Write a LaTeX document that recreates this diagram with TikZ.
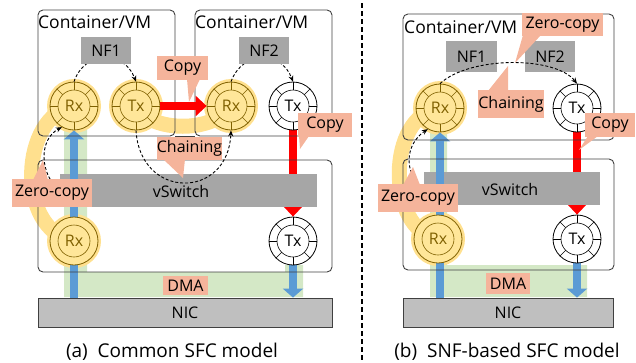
\documentclass[tikz,border=0pt]{standalone}
\usepackage{fontspec}
\setmainfont{Open Sans}
\usetikzlibrary{arrows.meta}

\definecolor{ringline}{HTML}{7F6000}
\definecolor{ringfill}{HTML}{FFE699}
\definecolor{bandcol}{HTML}{FFE08E}
\definecolor{calloutpink}{RGB}{245,180,155}
\definecolor{nfgray}{HTML}{A6A6A6}
\definecolor{nicgray}{HTML}{BFBFBF}
\definecolor{dmagreen}{RGB}{169,209,142}
\definecolor{pktblue}{HTML}{5B9BD5}
\definecolor{boxline}{HTML}{404040}

\pgfdeclarelayer{back}
\pgfdeclarelayer{lower}
\pgfsetlayers{back,lower,main}

\newcommand{\txtsize}{\fontsize{16}{18}\selectfont}
\newcommand{\bigsize}{\fontsize{17.5}{20}\selectfont}
\newcommand{\capsize}{\fontsize{19}{22}\selectfont}

\tikzset{
  ringbase/.style={circle, minimum size=48pt, inner sep=0pt, line width=0.8pt, font=\txtsize},
  yring/.style={ringbase, draw=ringline, fill=ringfill, text=ringline},
  wring/.style={ringbase, draw=black, fill=white, text=black},
  frame/.style={draw=boxline, line width=0.9pt, rounded corners=5pt, inner sep=0pt},
  graybox/.style={fill=nfgray, inner sep=0pt, font=\txtsize},
  nicbox/.style={fill=nicgray, draw=boxline, line width=0.8pt, inner sep=0pt, font=\txtsize},
  cbox/.style={fill=calloutpink, inner sep=0pt, font=\txtsize},
  ctail/.style={fill=calloutpink},
  lbl/.style={inner sep=0pt, font=\txtsize},
  bandline/.style={draw=bandcol, line width=15pt},
  redarrow/.style={draw=red, line width=8.5pt, -{Triangle[length=11pt,width=20pt]}},
  bluearrow/.style={draw=pktblue, line width=8pt, -{Triangle[length=9pt,width=20pt]}},
  chainline/.style={draw=black, line width=0.9pt, dash pattern=on 3pt off 2pt,
      -{Stealth[length=6pt,width=5pt]}},
  ringmark/.style={line width=0.6pt},
}

\begin{document}
\begin{tikzpicture}[x=1pt, y=-1pt]
\useasboundingbox (0,0) rectangle (636,362);

% ---------- frames ----------
\node[frame, minimum width=137pt, minimum height=126pt] (cA) at (106.5,73) {};
\node[frame, minimum width=137pt, minimum height=126pt] (cB) at (263.5,73) {};
\node[frame, minimum width=294pt, minimum height=112pt] (hA) at (185,216) {};
\node[frame, minimum width=211pt, minimum height=126pt] (cC) at (508.5,77) {};
\node[frame, minimum width=211pt, minimum height=111pt] (hB) at (508.5,214.5) {};
\draw[boxline, line width=0.9pt] (cA.south east) -- (cB.south west);

\node[lbl, font=\bigsize, anchor=base west] (tA) at (38,28) {Container/VM};
\node[lbl, font=\bigsize, anchor=base west] (tB) at (195,28) {Container/VM};
\node[lbl, font=\bigsize, anchor=base west] (tC) at (404,33) {Container/VM};

\node[nicbox, minimum width=294pt, minimum height=29pt] (nicA) at (185,312.5) {NIC};
\node[nicbox, minimum width=210pt, minimum height=29pt] (nicB) at (508,312.5) {NIC};

% ---------- rings ----------
\node[yring] (rxA) at (74,106) {Rx};
\node[yring] (txA) at (136,106) {Tx};
\node[yring] (rxB) at (231,106) {Rx};
\node[wring] (txB) at (293,106) {Tx};
\node[yring] (rxC) at (74,241) {Rx};
\node[wring] (txC) at (293,241) {Tx};

\node[yring] (rxD) at (440,108) {Rx};
\node[wring] (txD) at (577,108) {Tx};
\node[yring] (rxE) at (438,239) {Rx};
\node[wring] (txE) at (577,239) {Tx};

% inner rings and slot ticks
\foreach \n/\c in {rxA/ringline, txA/ringline, rxB/ringline, txB/black,
                   txC/black, rxD/ringline, txD/black, txE/black} {
  \draw[ringmark, \c] (\n.center) circle[radius=16pt];
  \foreach \a in {0,45,...,315}
    \draw[ringmark, \c] (\n.center) ++(\a:16pt) -- (\n.\a);
}
\foreach \n in {rxC, rxE}
  \draw[ringmark, ringline] (\n.center) circle[radius=16pt];

% ---------- DMA region and zero-copy bands ----------
\begin{pgfonlayer}{back}
  \fill[dmagreen, opacity=0.5] (64,127) -- (87,127) -- (87,272) -- (285,272) -- (285,265)
        -- (303,265) -- (303,297) -- (64,297) -- cycle;
  \fill[dmagreen, opacity=0.5] (430,130) -- (447,130) -- (447,265) -- (587,265)
        -- (587,297) -- (430,297) -- cycle;
  \draw[bandline] (rxA.center) .. controls (20,115) and (15,230) .. (rxC.center);
  \draw[bandline] (txA.center) .. controls (150,133) and (215,133) .. (rxB.center);
  \draw[bandline] (rxD.center) .. controls (386,115) and (386,230) .. (rxE.center);
  \foreach \n in {rxA,txA,rxB,rxC,rxD,rxE} {\fill[bandcol] (\n.center) circle[radius=27pt];}
\end{pgfonlayer}

% ---------- vSwitch with the copy and DMA paths ----------
\begin{pgfonlayer}{lower}
  \draw[redarrow] (txB.south) -- (txC.north);
  \draw[redarrow] (txD.south) -- (txE.north);
  \node[graybox, minimum width=257pt, minimum height=33pt] (vsA) at (188.5,190.5) {};
  \node[graybox, minimum width=176pt, minimum height=33pt] (vsB) at (512,188.5) {};
  \node[lbl] (vsAt) at (181,191) {vSwitch};
  \node[lbl] (vsBt) at (510,189) {vSwitch};
  \draw[bluearrow] (nicA.north -| rxA) -- (rxA.south);
  \draw[bluearrow] (txC.south) -- (txC.south |- nicA.north);
  \draw[bluearrow] (nicB.north -| rxD) -- (rxD.south);
  \draw[bluearrow] (txE.south) -- (txE.south |- nicB.north);
\end{pgfonlayer}

% ---------- chaining ----------
\draw[chainline] (rxA.north) .. controls (85,50) and (124,50) .. (txA.north);
\draw[chainline] (rxB.north) .. controls (243,50) and (281,50) .. (txB.north);
\draw[chainline] (txA.south) .. controls (140,200) and (228,200) .. (rxB.south);
\draw[chainline] (vsA.west) .. controls (40,175) and (38,140) .. (rxA.240);
\draw[chainline] (vsB.west) .. controls (404,175) and (404,145) .. (rxD.240);

\node[graybox, minimum width=50pt, minimum height=27pt] (nfA) at (106,50.5) {NF1};
\node[graybox, minimum width=50pt, minimum height=27pt] (nfB) at (264,50.5) {NF2};
\node[graybox, minimum width=51pt, minimum height=31pt] (nfC) at (471.5,56.5) {NF1};
\node[graybox, minimum width=50pt, minimum height=31pt] (nfD) at (550,56.5) {NF2};

\draw[chainline] (rxD.north) .. controls (470,56) and (555,56) .. (txD.north);
\draw[redarrow] (txA.east) -- (rxB.west);

% ---------- callouts ----------
\fill[ctail] (187,79) -- (189,102) -- (200,79) -- cycle;
\node[cbox, minimum width=51pt, minimum height=24pt] (copyA) at (182.5,68) {Copy};
\fill[ctail] (299,136) -- (300,149) -- (309,136) -- cycle;
\node[cbox, minimum width=54pt, minimum height=24pt] (copyB) at (325,125) {Copy};
\fill[ctail] (163,159) -- (183,178) -- (185,159) -- cycle;
\node[cbox, minimum width=65pt, minimum height=23pt] (chainA) at (189.5,148.5) {Chaining};
\fill[ctail] (33,180) -- (43,160) -- (48,180) -- cycle;
\node[cbox, minimum width=80pt, minimum height=28pt] (zeroA) at (52,193) {Zero-copy};
\node[cbox, minimum width=45pt, minimum height=19pt] (dmaA) at (185.5,285.5) {DMA};

\fill[ctail] (523,35) -- (515,63) -- (541,35) -- cycle;
\node[cbox, minimum width=81pt, minimum height=23pt] (zeroB) at (562.5,24.5) {Zero-copy};
\fill[ctail] (488,91) -- (508,66) -- (508,91) -- cycle;
\node[cbox, minimum width=64pt, minimum height=28pt] (chainB) at (511,104) {Chaining};
\fill[ctail] (588,136) -- (579,150) -- (598,136) -- cycle;
\node[cbox, minimum width=50pt, minimum height=24pt] (copyC) at (610,125) {Copy};
\fill[ctail] (403,185) -- (413,167) -- (420,185) -- cycle;
\node[cbox, minimum width=80pt, minimum height=28pt] (zeroC) at (418,198) {Zero-copy};
\node[cbox, minimum width=44pt, minimum height=21pt] (dmaB) at (508,283.5) {DMA};

% ---------- separator and captions ----------
\draw[black, line width=1.1pt, dash pattern=on 5pt off 3pt] (362,3) -- (362,362);
\node[lbl, font=\capsize, anchor=base] (capA) at (172,357) {(a)\ \ Common SFC model};
\node[lbl, font=\capsize, anchor=base] (capB) at (507,357) {(b)\ \ SNF-based SFC model};
\end{tikzpicture}
\end{document}
